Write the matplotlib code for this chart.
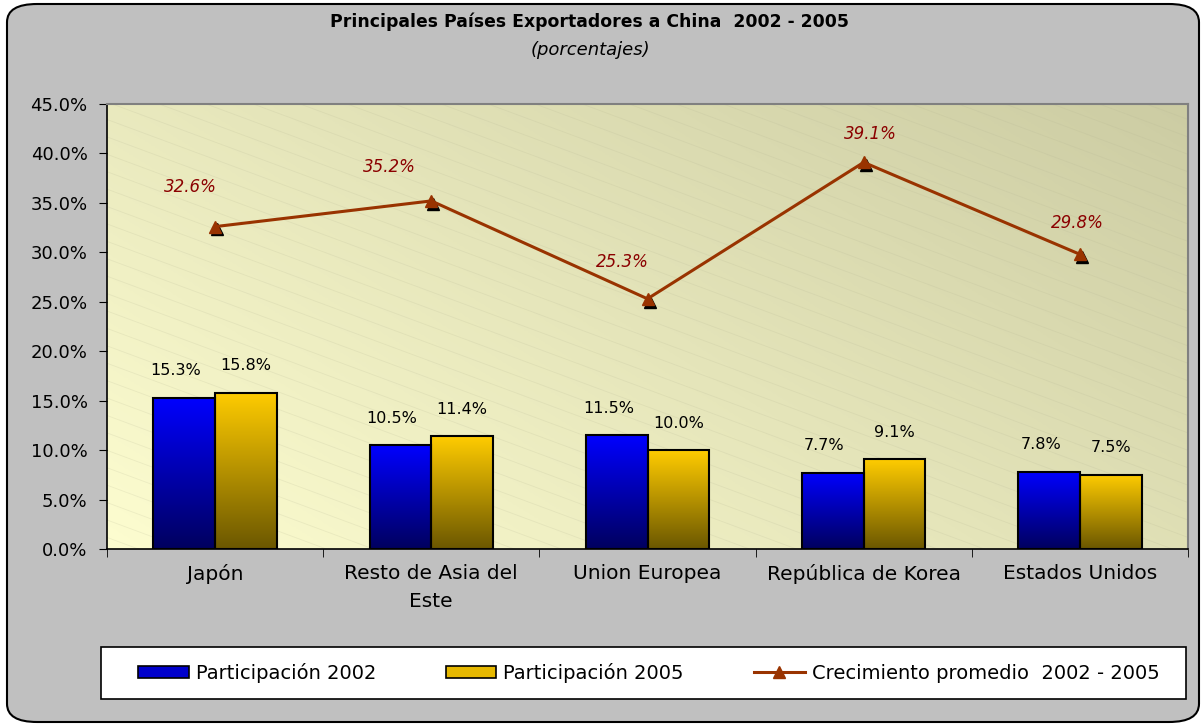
import numpy as np
import matplotlib.pyplot as plt
from matplotlib.patches import FancyBboxPatch, Rectangle
from matplotlib.lines import Line2D
from matplotlib.colors import LinearSegmentedColormap
import matplotlib.transforms as mtransforms

plt.rcParams['font.family'] = 'DejaVu Sans'

categorias = ["Japón", "Resto de Asia del\nEste", "Union Europea", "República de Korea", "Estados Unidos"]
part_2002 = [15.3, 10.5, 11.5, 7.7, 7.8]
part_2005 = [15.8, 11.4, 10.0, 9.1, 7.5]
crecimiento = [32.6, 35.2, 25.3, 39.1, 29.8]

# label offsets (points) for the growth labels
lbl_off = [(-18, 22), (-30, 18), (-18, 20), (5, 14), (-2, 16)]

W, H = 1203, 728
fig = plt.figure(figsize=(W / 100, H / 100), dpi=100)
fig.patch.set_facecolor("white")

# rounded gray frame
frame = FancyBboxPatch((7 / W, 6 / H), 1192 / W, 718 / H,
                       boxstyle="round,pad=0,rounding_size=0.025",
                       transform=fig.transFigure, facecolor="#C0C0C0",
                       edgecolor="black", linewidth=1.5, zorder=-5)
fig.patches.append(frame)

ax = fig.add_axes([107 / W, 1 - 549 / H, 1081 / W, 445 / H])

# background gradient of plot area
n = 200
gx, gy = np.meshgrid(np.linspace(0, 1, n), np.linspace(0, 1, n))
t = (gx * 0.6 + gy * 0.4)
c0 = np.array([0.992, 0.992, 0.815])
c1 = np.array([0.800, 0.800, 0.640])
img = c0 + (c1 - c0) * t[..., None]
ax.imshow(img, extent=[0, 1, 0, 1], transform=ax.transAxes, origin="lower",
          aspect="auto", zorder=0)
# faint diagonal lines
for k in np.linspace(-1.5, 1.2, 70):
    ax.plot([0, 1], [k + 0.9, k], transform=ax.transAxes, color="#b0b090",
            lw=0.6, alpha=0.18, zorder=0.5)

x = np.arange(len(categorias))
bw = 0.285

blue_cmap = LinearSegmentedColormap.from_list("b", ["#00005e", "#0000ff"])
gold_cmap = LinearSegmentedColormap.from_list("g", ["#6b5700", "#ffcc00"])
grad = np.linspace(0, 1, 256).reshape(-1, 1)


def gradient_bars(xs, vals, cmap):
    bars = ax.bar(xs, vals, bw, color="none", edgecolor="black", lw=1.5, zorder=3)
    for b in bars:
        x0 = b.get_x()
        ax.imshow(grad, extent=[x0, x0 + b.get_width(), 0, b.get_height()],
                  origin="lower", cmap=cmap, aspect="auto", zorder=2)
    return bars


b1 = gradient_bars(x - bw / 2, part_2002, blue_cmap)
b2 = gradient_bars(x + bw / 2, part_2005, gold_cmap)
ax.set_xlim(-0.5, 4.5)
ax.set_ylim(0, 45)

for xi, v in zip(x - bw / 2, part_2002):
    ax.annotate(f"{v:.1f}%", (xi, v), xytext=(-6, 14), textcoords="offset points",
                ha="center", va="bottom", fontsize=11.5)
for xi, v in zip(x + bw / 2, part_2005):
    ax.annotate(f"{v:.1f}%", (xi, v), xytext=(0, 14), textcoords="offset points",
                ha="center", va="bottom", fontsize=11.5)

# growth line with shadowed markers
shadow = mtransforms.offset_copy(ax.transData, fig=fig, x=1.5, y=-2.0, units="points")
ax.plot(x, crecimiento, ls="none", marker="^", ms=9, color="black", transform=shadow, zorder=4)
ax.plot(x, crecimiento, color="#993300", lw=2.2, marker="^", ms=9, zorder=5)
for xi, v, off in zip(x, crecimiento, lbl_off):
    ax.annotate(f"{v:.1f}%", (xi, v), xytext=off, textcoords="offset points",
                ha="center", va="bottom", fontsize=12, style="italic", color="#8b0000")

ax.set_yticks(np.arange(0, 46, 5))
ax.set_yticklabels([f"{v:.1f}%" for v in np.arange(0, 46, 5)], fontsize=13)
ax.set_xticks(x)
ax.set_xticklabels(categorias, fontsize=14.5, linespacing=1.55)
ax.set_xticks(np.arange(-0.5, 5, 1), minor=True)
ax.tick_params(axis="x", which="major", length=0, pad=11)
ax.tick_params(axis="x", which="minor", length=6, direction="out")
ax.tick_params(axis="y", length=6, direction="out", pad=8)
for s in ["top", "right"]:
    ax.spines[s].set_color("#808080")
    ax.spines[s].set_linewidth(1.5)
for s in ["left", "bottom"]:
    ax.spines[s].set_color("black")
    ax.spines[s].set_linewidth(1.2)

fig.text(590 / W, 1 - 22 / H, "Principales Países Exportadores a China  2002 - 2005",
         ha="center", va="center", fontsize=12.4, weight="bold")
fig.text(590 / W, 1 - 50 / H, "(porcentajes)", ha="center", va="center",
         fontsize=13, style="italic")

# legend box
fig.patches.append(Rectangle((101 / W, 1 - 699 / H), 1085 / W, 52 / H,
                             transform=fig.transFigure, facecolor="white",
                             edgecolor="black", lw=1.2, zorder=-1))
handles = [Rectangle((0, 0), 1, 1, facecolor="#0000cc", edgecolor="black", lw=1.2),
           Rectangle((0, 0), 1, 1, facecolor="#e6b800", edgecolor="black", lw=1.2),
           Line2D([], [], color="#993300", lw=2.2, marker="^", ms=9)]
labels = ["Participación 2002", "Participación 2005", "Crecimiento promedio  2002 - 2005"]
leg = fig.legend(handles, labels, loc="center left", ncol=3,
                 bbox_to_anchor=(138 / W, 1 - 673 / H), fontsize=14,
                 frameon=False, handlelength=2.6, handleheight=0.62,
                 columnspacing=3.6, borderpad=0, handletextpad=0.36, borderaxespad=0)

fig.savefig("out.png", dpi=100)
